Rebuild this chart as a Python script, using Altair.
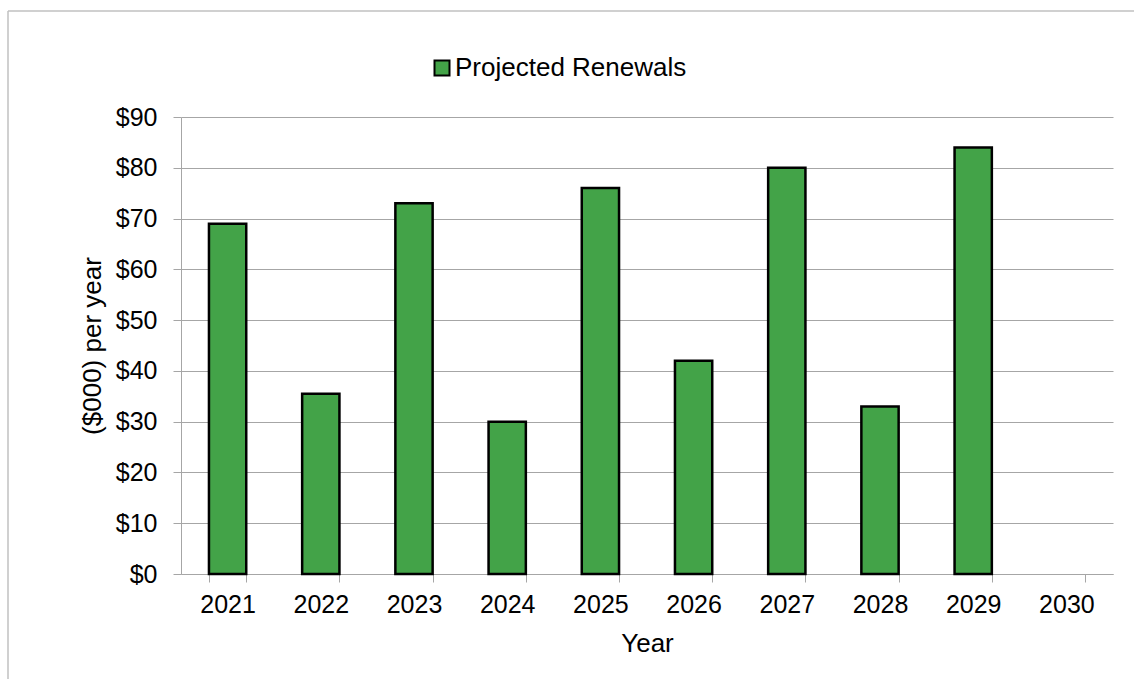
import altair as alt
import pandas as pd

years = ["2021", "2022", "2023", "2024", "2025", "2026", "2027", "2028", "2029", "2030"]
renewals = [69, 35.5, 73, 30, 76, 42, 80, 33, 84, None]
series_name = "Projected Renewals"
y_ticks = [0, 10, 20, 30, 40, 50, 60, 70, 80, 90]

df = pd.DataFrame({"Year": years, "Value": renewals, "Series": [series_name] * len(years)})

FONT = "Liberation Sans"
GREEN = "#43a348"
GRID = "#a6a6a6"

bars = alt.Chart(df).mark_bar(stroke="black", strokeWidth=2.5, color=GREEN).encode(
    x=alt.X(
        "Year:N",
        scale=alt.Scale(domain=years, paddingInner=0.6, paddingOuter=0.3),
        axis=alt.Axis(
            title="Year",
            labelAngle=0,
            tickBand="extent",
            tickSize=8,
            tickColor=GRID,
            domainColor=GRID,
            labelFontSize=25,
            labelPadding=10,
            titleFontSize=26,
            titleFontWeight="normal",
            titlePadding=13,
            labelColor="black",
            titleColor="black",
            grid=False,
        ),
    ),
    y=alt.Y(
        "Value:Q",
        scale=alt.Scale(domain=[0, 90], nice=False),
        axis=alt.Axis(
            title="($000) per year",
            values=y_ticks,
            format="$,.0f",
            tickSize=8,
            tickColor=GRID,
            domainColor=GRID,
            gridColor=GRID,
            gridWidth=1,
            labelFontSize=25,
            labelPadding=16,
            titleFontSize=26,
            titleFontWeight="normal",
            titlePadding=10,
            labelColor="black",
            titleColor="black",
        ),
    ),
    color=alt.Color(
        "Series:N",
        scale=alt.Scale(domain=[series_name], range=[GREEN]),
        legend=alt.Legend(
            title=None,
            orient="none",
            legendX=248,
            legendY=-62,
            symbolType="square",
            symbolSize=225,
            symbolStrokeColor="black",
            symbolStrokeWidth=2,
            symbolFillColor=GREEN,
            labelFontSize=26,
            labelColor="black",
            labelOffset=0,
            labelLimit=0,
            padding=0,
        ),
    ),
)

frame_df = pd.DataFrame({"k": [0]})
top_border = alt.Chart(frame_df).mark_rule(color="#c0c0c0", strokeWidth=1.5).encode(
    x=alt.value(-173), x2=alt.value(953), y=alt.value(-106)
)
left_border = alt.Chart(frame_df).mark_rule(color="#c0c0c0", strokeWidth=1.5).encode(
    x=alt.value(-173), y=alt.value(-106), y2=alt.value(562)
)

chart = (
    alt.layer(bars, top_border, left_border)
    .properties(
        width=932,
        height=457,
        autosize=alt.AutoSizeParams(type="none"),
        padding={"left": 181, "top": 117, "right": 21, "bottom": 105},
        background="white",
    )
    .configure(font=FONT)
    .configure_view(stroke=None)
)

chart.save("out.html", embed_options={"renderer": "svg", "actions": False})
